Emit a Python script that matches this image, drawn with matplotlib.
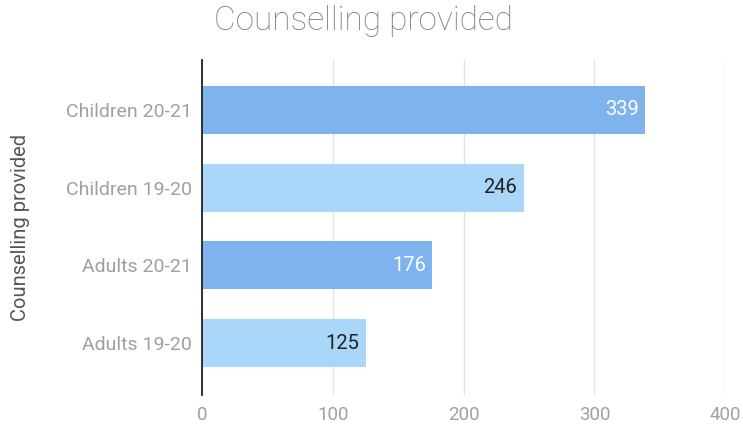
import numpy as np
import matplotlib.pyplot as plt

plt.rcParams['font.family'] = ['Roboto', 'DejaVu Sans']

# data
categories = ['Adults 19-20', 'Adults 20-21', 'Children 19-20', 'Children 20-21']
values = [125, 176, 246, 339]
bar_colors = ['#aad6fa', '#7fb3ee', '#aad6fa', '#7fb3ee']
label_colors = ['#222222', '#ffffff', '#222222', '#ffffff']
xticks = [0, 100, 200, 300, 400]

fig = plt.figure(figsize=(7.43, 4.30), dpi=100)
ax = fig.add_axes([0.272, 0.081, 0.704, 0.779])

y = np.arange(len(categories))
ax.barh(y, values, height=0.62, color=bar_colors, zorder=2)

for yi, v, c in zip(y, values, label_colors):
    ax.text(v - 5, yi, str(v), ha='right', va='center', fontsize=14.5, color=c, zorder=3)

ax.set_xlim(0, 400)
ax.set_ylim(-0.67, 3.64)
ax.set_xticks(xticks)
ax.set_yticks(y)
ax.set_yticklabels(categories)
ax.tick_params(axis='x', colors='#a0a0a0', labelsize=13.5, length=0, pad=8)
ax.tick_params(axis='y', colors='#a0a0a0', labelsize=14, length=0, pad=7)
ax.grid(True, axis='x', color='#e4e4e4', linewidth=1, zorder=0)

for s in ['top', 'right', 'bottom']:
    ax.spines[s].set_visible(False)
ax.spines['left'].set_color('#222222')
ax.spines['left'].set_linewidth(1.3)

fig.text(0.027, 0.47, 'Counselling provided', rotation=90, ha='center', va='center',
         fontsize=14.5, color='#555555')
fig.text(0.489, 0.952, 'Counselling provided', ha='center', va='center', fontsize=24,
         color='#7e7e7e', fontweight='light')

plt.savefig('out.png', dpi=100)
